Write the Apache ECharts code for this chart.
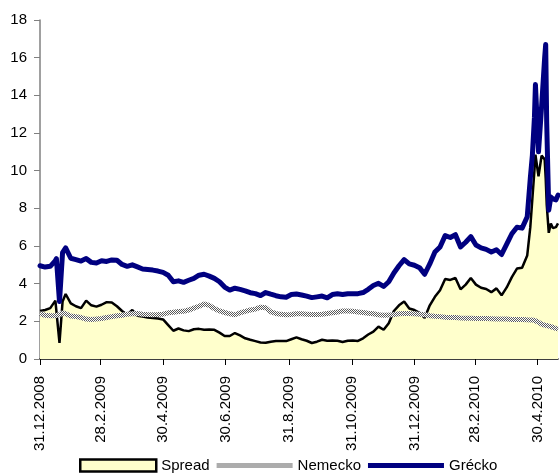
<!DOCTYPE html>
<html>
<head>
<meta charset="utf-8">
<title>Spread</title>
<script src="https://cdn.jsdelivr.net/npm/echarts@6/dist/echarts.min.js"></script>
<style>
  html, body { margin: 0; padding: 0; background: #fff; }
  #chart { width: 560px; height: 475px; }
</style>
</head>
<body>
<div id="chart"></div>
<script>
// datumy (vzorky odcitane z grafu)
var dates = [
  '2008-12-31','2009-01-05','2009-01-10','2009-01-15','2009-01-16','2009-01-19','2009-01-22','2009-01-25','2009-01-30',
  '2009-02-04','2009-02-09','2009-02-14','2009-02-19','2009-02-24','2009-03-01','2009-03-06','2009-03-11','2009-03-16',
  '2009-03-21','2009-03-26','2009-03-31','2009-04-05','2009-04-10','2009-04-15','2009-04-20','2009-04-25','2009-04-30',
  '2009-05-05','2009-05-10','2009-05-15','2009-05-20','2009-05-25','2009-05-30','2009-06-04','2009-06-09','2009-06-14',
  '2009-06-19','2009-06-24','2009-06-29','2009-07-04','2009-07-09','2009-07-14','2009-07-19','2009-07-24','2009-07-29',
  '2009-08-03','2009-08-08','2009-08-13','2009-08-18','2009-08-23','2009-08-28','2009-09-02','2009-09-07','2009-09-12',
  '2009-09-17','2009-09-22','2009-09-27','2009-10-02','2009-10-07','2009-10-12','2009-10-17','2009-10-22','2009-10-27',
  '2009-11-01','2009-11-06','2009-11-11','2009-11-16','2009-11-21','2009-11-26','2009-12-01','2009-12-06','2009-12-11',
  '2009-12-16','2009-12-21','2009-12-26','2009-12-31','2010-01-05','2010-01-10','2010-01-15','2010-01-20','2010-01-25',
  '2010-01-30','2010-02-04','2010-02-09','2010-02-14','2010-02-19','2010-02-24','2010-03-01','2010-03-06','2010-03-11',
  '2010-03-16','2010-03-21','2010-03-26','2010-03-31','2010-04-05','2010-04-10','2010-04-15','2010-04-20','2010-04-23',
  '2010-04-25','2010-04-27','2010-04-28','2010-05-01','2010-05-04','2010-05-07','2010-05-08','2010-05-09','2010-05-11',
  '2010-05-13','2010-05-15','2010-05-18','2010-05-20'
];
var grecko = [
  4.95,4.88,4.92,5.22,5.33,3.05,5.65,5.9,5.35,
  5.28,5.2,5.33,5.13,5.1,5.22,5.18,5.26,5.24,
  5.02,4.92,5.0,4.89,4.78,4.75,4.72,4.67,4.6,
  4.45,4.1,4.15,4.07,4.18,4.28,4.45,4.5,4.4,
  4.28,4.1,3.82,3.66,3.76,3.7,3.62,3.52,3.47,
  3.37,3.53,3.44,3.36,3.3,3.28,3.42,3.45,3.4,
  3.34,3.26,3.3,3.34,3.25,3.42,3.46,3.42,3.46,
  3.46,3.47,3.53,3.7,3.9,4.02,3.85,4.1,4.57,
  4.95,5.28,5.05,4.98,4.85,4.5,5.05,5.68,5.95,
  6.55,6.45,6.6,5.95,6.2,6.5,6.05,5.9,5.82,
  5.68,5.8,5.55,6.1,6.65,7.0,6.95,7.55,9.6,
  10.8,12.8,14.57,11.0,13.4,16.0,16.7,12.5,7.9,
  8.6,8.5,8.45,8.7
];
var nemecko = [
  2.42,2.32,2.3,2.3,2.3,2.35,2.44,2.4,2.28,
  2.25,2.2,2.12,2.1,2.12,2.15,2.2,2.25,2.3,
  2.32,2.38,2.4,2.42,2.38,2.36,2.35,2.36,2.38,
  2.45,2.48,2.52,2.53,2.6,2.7,2.8,2.92,2.85,
  2.68,2.55,2.47,2.4,2.35,2.45,2.53,2.6,2.65,
  2.75,2.72,2.5,2.42,2.37,2.35,2.36,2.4,2.4,
  2.38,2.36,2.36,2.38,2.42,2.45,2.5,2.55,2.55,
  2.53,2.5,2.47,2.43,2.4,2.35,2.32,2.33,2.36,
  2.4,2.42,2.42,2.4,2.38,2.35,2.3,2.27,2.25,
  2.22,2.2,2.2,2.18,2.17,2.16,2.15,2.15,2.15,
  2.14,2.13,2.12,2.12,2.1,2.1,2.1,2.08,2.07,
  2.07,2.05,2.05,1.95,1.85,1.8,1.8,1.78,1.75,
  1.72,1.68,1.62,1.58
];
var spread = [
  2.55,2.6,2.7,3.1,3.2,0.85,3.05,3.45,2.95,
  2.8,2.7,3.1,2.85,2.78,2.88,3.02,3.0,2.8,
  2.55,2.35,2.6,2.3,2.25,2.2,2.18,2.15,2.1,
  1.8,1.5,1.62,1.52,1.48,1.58,1.6,1.55,1.56,
  1.55,1.4,1.22,1.22,1.38,1.25,1.1,1.02,0.95,
  0.88,0.86,0.92,0.95,0.95,0.95,1.05,1.15,1.05,
  0.97,0.85,0.92,1.02,0.97,0.98,0.97,0.9,0.97,
  0.98,0.96,1.1,1.3,1.45,1.72,1.55,1.9,2.55,
  2.85,3.05,2.68,2.6,2.45,2.18,2.85,3.3,3.65,
  4.25,4.2,4.3,3.7,3.95,4.3,3.95,3.78,3.72,
  3.55,3.75,3.38,3.8,4.35,4.8,4.85,5.5,7.0,
  8.5,10.0,10.85,9.7,10.8,10.6,9.6,8.2,6.7,
  7.2,6.95,7.0,7.2
];
// popisky osi x
var tickDates = ['2008-12-31','2009-02-28','2009-04-30','2009-06-30','2009-08-31','2009-10-31','2009-12-31','2010-02-28','2010-04-30'];
var tickLabels = ['31.12.2008','28.2.2009','30.4.2009','30.6.2009','31.8.2009','31.10.2009','31.12.2009','28.2.2010','30.4.2010'];
var endDate = '2010-05-20';

var font = '"Liberation Sans", Arial, sans-serif';

// pocet dni od zaciatku osi
function dayNo(s){
  var p = s.split('-');
  return Math.round((Date.UTC(+p[0], +p[1] - 1, +p[2]) - Date.UTC(2008, 11, 31)) / 86400000);
}
var tickValues = tickDates.map(dayNo);

// sede srafovanie pre Nemecko
var pat = document.createElement('canvas');
pat.width = 2; pat.height = 2;
var pctx = pat.getContext('2d');
pctx.fillStyle = '#ffffff';
pctx.fillRect(0, 0, 2, 2);
pctx.fillStyle = '#5a5a5a';
pctx.fillRect(0, 0, 1, 1);
pctx.fillRect(1, 1, 1, 1);
var hatch = { image: pat, repeat: 'repeat' };

function pairs(vals){
  return dates.map(function(d, i){ return [dayNo(d), vals[i]]; });
}

var myChart = echarts.init(document.getElementById('chart'), null, { renderer: 'canvas' });
var option = {
  animation: false,
  backgroundColor: '#ffffff',
  grid: { left: 40, right: 2, top: 20, bottom: 116 },
  legend: {
    left: 74,
    top: 453,
    itemWidth: 76,
    itemHeight: 12,
    itemGap: 7,
    textStyle: { fontFamily: font, fontSize: 15, color: '#000' },
    data: [
      { name: 'Spread', icon: 'rect', itemStyle: { color: '#ffffcc', borderColor: '#000', borderWidth: 2.5 } },
      { name: 'Nemecko', icon: 'path://M0,0H76V5H0Z', itemStyle: { color: hatch, borderWidth: 0 } },
      { name: 'Grécko', icon: 'path://M0,0H76V5H0Z', itemStyle: { color: '#000080', borderWidth: 0 } }
    ]
  },
  xAxis: {
    type: 'value',
    min: 0,
    max: dayNo(endDate),
    splitLine: { show: false },
    axisLine: { show: true, lineStyle: { color: '#000', width: 1.5 } },
    axisTick: { show: true, length: 6, customValues: tickValues, lineStyle: { color: '#000' } },
    axisLabel: {
      customValues: tickValues,
      rotate: 90,
      margin: 17,
      fontFamily: font,
      fontSize: 15,
      color: '#000',
      formatter: function(val){
        var i = tickValues.indexOf(val);
        return i >= 0 ? tickLabels[i] : '';
      }
    }
  },
  yAxis: {
    type: 'value',
    min: 0,
    max: 18,
    interval: 2,
    splitLine: { show: false },
    axisLine: { show: true, lineStyle: { color: '#808080', width: 1.5 } },
    axisTick: { show: true, length: 6, lineStyle: { color: '#808080' } },
    axisLabel: { margin: 13, fontFamily: font, fontSize: 15, color: '#000' }
  },
  series: [
    {
      name: 'Spread',
      type: 'line',
      symbol: 'none',
      data: pairs(spread),
      itemStyle: { color: '#ffffcc' },
      lineStyle: { color: '#000', width: 2.5 },
      areaStyle: { color: '#ffffcc', opacity: 1 },
      z: 1
    },
    {
      name: 'Nemecko',
      type: 'line',
      symbol: 'none',
      data: pairs(nemecko),
      itemStyle: { color: '#999' },
      lineStyle: { color: hatch, width: 5 },
      z: 2
    },
    {
      name: 'Grécko',
      type: 'line',
      symbol: 'none',
      data: pairs(grecko),
      itemStyle: { color: '#000080' },
      lineStyle: { color: '#000080', width: 5, join: 'round', cap: 'round' },
      z: 3
    }
  ]
};
myChart.setOption(option);
</script>
</body>
</html>
